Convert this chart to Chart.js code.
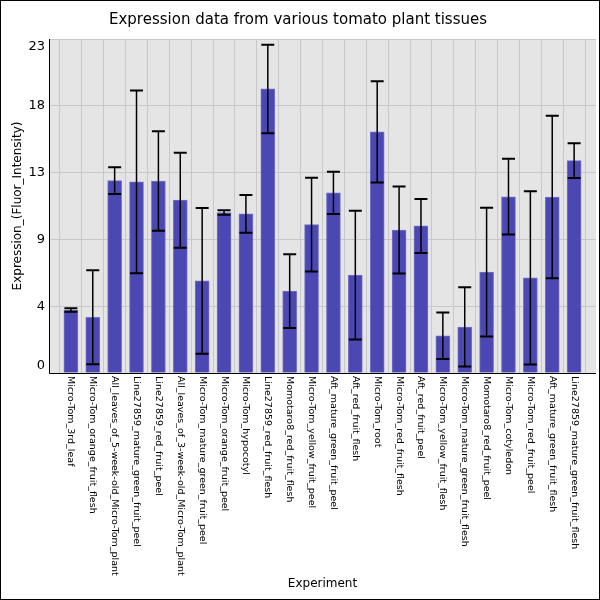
<!DOCTYPE html>
<html>
<head>
<meta charset="utf-8">
<script src="https://cdn.jsdelivr.net/npm/chart.js@4/dist/chart.umd.min.js"></script>
<style>
  html, body { margin: 0; padding: 0; background: #fff; }
  #wrap { width: 600px; height: 600px; position: relative; }
</style>
</head>
<body>
<div id="wrap"><canvas id="c" width="600" height="600"></canvas></div>
<script>
const categories = [
  'Micro-Tom_3rd_leaf',
  'Micro-Tom_orange_fruit_flesh',
  'All_leaves_of_5-week-old_Micro-Tom_plant',
  'Line27859_mature_green_fruit_peel',
  'Line27859_red_fruit_peel',
  'All_leaves_of_3-week-old_Micro-Tom_plant',
  'Micro-Tom_mature_green_fruit_peel',
  'Micro-Tom_orange_fruit_peel',
  'Micro-Tom_hypocotyl',
  'Line27859_red_fruit_flesh',
  'Momotaro8_red_fruit_flesh',
  'Micro-Tom_yellow_fruit_peel',
  'Aft_mature_green_fruit_peel',
  'Aft_red_fruit_flesh',
  'Micro-Tom_root',
  'Micro-Tom_red_fruit_flesh',
  'Aft_red_fruit_peel',
  'Micro-Tom_yellow_fruit_flesh',
  'Micro-Tom_mature_green_fruit_flesh',
  'Momotaro8_red_fruit_peel',
  'Micro-Tom_cotyledon',
  'Micro-Tom_red_fruit_peel',
  'Aft_mature_green_fruit_flesh',
  'Line27859_mature_green_fruit_flesh'
];
const meanValues = [4.34, 3.84, 13.25, 13.16, 13.22, 11.90, 6.35, 11.05, 10.96, 19.56, 5.64, 10.22, 12.40, 6.74, 16.60, 9.85, 10.13, 2.56, 3.17, 6.95, 12.14, 6.55, 12.12, 14.62];
const errValues  = [0.12, 3.24, 0.92, 6.29, 3.43, 3.27, 5.02, 0.16, 1.30, 3.05, 2.54, 3.23, 1.45, 4.44, 3.49, 3.00, 1.86, 1.60, 2.73, 4.43, 2.61, 5.97, 5.60, 1.20];
const yTickValues = [0, 4.6, 9.2, 13.8, 18.4, 23];
const yTickLabels = ['0', '4', '9', '13', '18', '23'];

const labels = [''].concat(categories, ['']);
const data = [null].concat(meanValues, [null]);
const errs = [null].concat(errValues, [null]);

const frameAndBg = {
  id: 'frameAndBg',
  beforeDraw(chart) {
    const {ctx, chartArea: a} = chart;
    ctx.save();
    ctx.fillStyle = '#ffffff';
    ctx.fillRect(0, 0, chart.width, chart.height);
    ctx.fillStyle = '#e5e5e5';
    ctx.fillRect(a.left, a.top, a.right - a.left, a.bottom - a.top);
    ctx.restore();
  },
  afterDraw(chart) {
    const {ctx, chartArea: a} = chart;
    const xs = chart.scales.x;
    ctx.save();
    // x tick labels, reading top to bottom
    ctx.fillStyle = '#000';
    ctx.font = '9.5px "DejaVu Sans"';
    ctx.textAlign = 'left';
    ctx.textBaseline = 'middle';
    labels.forEach((lab, i) => {
      if (!lab) return;
      const x = xs.getPixelForTick(i);
      ctx.save();
      ctx.translate(x, a.bottom + 3);
      ctx.rotate(Math.PI / 2);
      ctx.fillText(lab, 0, 0);
      ctx.restore();
    });
    // axes
    ctx.strokeStyle = '#000';
    ctx.lineWidth = 1;
    ctx.beginPath();
    ctx.moveTo(Math.round(a.left) + 0.5, a.top);
    ctx.lineTo(Math.round(a.left) + 0.5, Math.round(a.bottom) + 0.5);
    ctx.lineTo(a.right, Math.round(a.bottom) + 0.5);
    ctx.stroke();
    // outer frame
    ctx.strokeRect(0.5, 0.5, chart.width - 1, chart.height - 1);
    ctx.restore();
  }
};

const errorBars = {
  id: 'errorBars',
  afterDatasetsDraw(chart) {
    const {ctx} = chart;
    const ys = chart.scales.y;
    const meta = chart.getDatasetMeta(0);
    ctx.save();
    ctx.strokeStyle = '#000';
    meta.data.forEach((bar, i) => {
      const v = data[i], e = errs[i];
      if (v == null) return;
      const x = bar.x;
      const yt = ys.getPixelForValue(v + e);
      const yb = ys.getPixelForValue(Math.max(0, v - e));
      ctx.lineWidth = 1.5;
      ctx.beginPath();
      ctx.moveTo(x, yt);
      ctx.lineTo(x, yb);
      ctx.stroke();
      ctx.lineWidth = 2;
      ctx.beginPath();
      ctx.moveTo(x - 6.5, yt);
      ctx.lineTo(x + 6.5, yt);
      ctx.moveTo(x - 6.5, yb);
      ctx.lineTo(x + 6.5, yb);
      ctx.stroke();
    });
    ctx.restore();
  }
};

new Chart(document.getElementById('c'), {
  type: 'bar',
  data: {
    labels: labels,
    datasets: [{
      data: data,
      backgroundColor: '#4b47b3',
      borderColor: '#7672c6',
      borderWidth: 1,
      barThickness: 14
    }]
  },
  options: {
    responsive: false,
    animation: false,
    devicePixelRatio: 1,
    layout: { padding: { left: 0, right: 4, top: 0, bottom: 0 } },
    plugins: {
      legend: { display: false },
      tooltip: { enabled: false },
      title: {
        display: true,
        text: 'Expression data from various tomato plant tissues',
        color: '#000',
        font: { family: 'DejaVu Sans', size: 15, weight: 'normal', lineHeight: 1.2 },
        padding: { top: 11, bottom: 10 }
      }
    },
    scales: {
      x: {
        type: 'category',
        offset: false,
        grid: { color: '#c8c8c8', lineWidth: 1, drawTicks: false, tickLength: 0 },
        border: { display: false },
        ticks: { display: false },
        title: {
          display: true,
          text: 'Experiment',
          color: '#000',
          font: { family: 'DejaVu Sans', size: 12, lineHeight: 1.2 },
          padding: { top: 0, bottom: 8.5 }
        },
        afterFit(scale) { scale.height = 227; }
      },
      y: {
        min: 0,
        max: 23,
        afterBuildTicks(scale) {
          scale.ticks = yTickValues.map(v => ({ value: v }));
        },
        grid: { color: '#c8c8c8', lineWidth: 1, drawTicks: false, tickLength: 0 },
        border: { display: false },
        ticks: {
          color: '#000',
          padding: 4,
          autoSkip: false,
          font: { family: 'DejaVu Sans', size: 13, lineHeight: 1.1 },
          callback(value, index) {
            const lab = yTickLabels[index];
            if (index === 0) return [lab, ''];
            if (index === yTickValues.length - 1) return ['', lab];
            return lab;
          }
        },
        title: {
          display: true,
          text: 'Expression_(Fluor_Intensity)',
          color: '#000',
          font: { family: 'DejaVu Sans', size: 12, lineHeight: 1.2 },
          padding: { top: 10.5, bottom: 0 }
        },
        afterFit(scale) { scale.width = 49; }
      }
    }
  },
  plugins: [frameAndBg, errorBars]
});
</script>
</body>
</html>
